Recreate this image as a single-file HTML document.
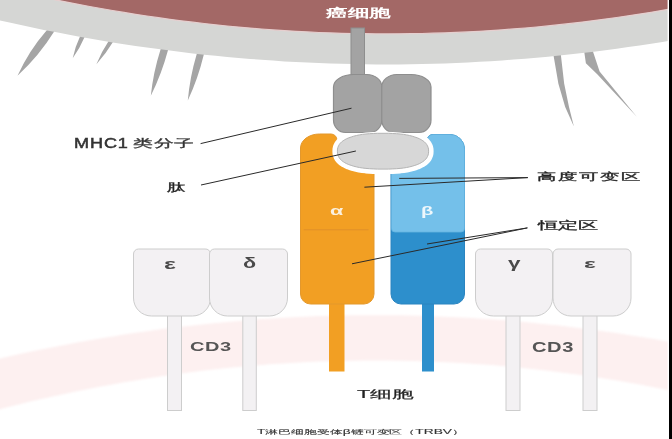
<!DOCTYPE html>
<html><head><meta charset="utf-8">
<style>
html,body{margin:0;padding:0;background:#fff;}
body{width:672px;height:439px;position:relative;overflow:hidden;font-family:"Liberation Sans",sans-serif;}
svg{position:absolute;left:0;top:0;}
.t{position:absolute;white-space:nowrap;transform-origin:0 0;line-height:1;}
</style></head><body>
<svg width="672" height="439" viewBox="0 0 672 439">
<defs>
<mask id="pm" maskUnits="userSpaceOnUse" x="0" y="0" width="672" height="439">
<rect x="0" y="0" width="672" height="439" fill="#fff"/>
<polygon points="428.6,151.2 428.5,153.3 428.1,155.0 427.5,156.5 426.7,157.9 425.7,159.2 424.4,160.5 422.9,161.6 421.2,162.7 419.3,163.7 417.2,164.6 414.8,165.4 412.3,166.2 409.5,166.9 406.6,167.5 403.5,168.0 400.1,168.4 396.6,168.7 392.7,168.9 388.5,169.1 383.0,169.1 377.5,169.1 373.3,168.9 369.4,168.7 365.9,168.4 362.5,168.0 359.4,167.5 356.5,166.9 353.7,166.2 351.2,165.4 348.8,164.6 346.7,163.7 344.8,162.7 343.1,161.6 341.6,160.5 340.3,159.2 339.3,157.9 338.5,156.5 337.9,155.0 337.5,153.3 337.4,151.2 337.5,149.1 337.9,147.4 338.5,145.9 339.3,144.5 340.3,143.2 341.6,141.9 343.1,140.8 344.8,139.7 346.7,138.7 348.8,137.8 351.2,137.0 353.7,136.2 356.5,135.5 359.4,134.9 362.5,134.4 365.9,134.0 369.4,133.7 373.3,133.5 377.5,133.3 383.0,133.3 388.5,133.3 392.7,133.5 396.6,133.7 400.1,134.0 403.5,134.4 406.6,134.9 409.5,135.5 412.3,136.2 414.8,137.0 417.2,137.8 419.3,138.7 421.2,139.7 422.9,140.8 424.4,141.9 425.7,143.2 426.7,144.5 427.5,145.9 428.1,147.4 428.5,149.1" fill="#000" stroke="#000" stroke-width="10" stroke-linejoin="round"/>
</mask>
<filter id="blur1" x="-5%" y="-20%" width="110%" height="140%"><feGaussianBlur stdDeviation="1.2"/></filter>
<clipPath id="lightclip"><rect x="380" y="100" width="100" height="132"/></clipPath>
</defs>
<polygon points="-2.0,359.0 9.5,356.3 20.9,353.8 32.4,351.3 43.8,349.0 55.3,346.7 66.7,344.5 78.2,342.3 89.7,340.3 101.1,338.3 112.6,336.4 124.0,334.6 135.5,332.8 146.9,331.2 158.4,329.6 169.9,328.1 181.3,326.7 192.8,325.4 204.2,324.2 215.7,323.0 227.2,321.9 238.6,320.9 250.1,320.0 261.5,319.1 273.0,318.4 284.4,317.7 295.9,317.1 307.4,316.6 318.8,316.1 330.3,315.8 341.7,315.5 353.2,315.3 364.6,315.2 376.1,315.2 387.6,315.2 399.0,315.3 410.5,315.5 421.9,315.8 433.4,316.2 444.8,316.7 456.3,317.2 467.8,317.8 479.2,318.5 490.7,319.3 502.1,320.1 513.6,321.1 525.1,322.1 536.5,323.2 548.0,324.4 559.4,325.6 570.9,327.0 582.3,328.4 593.8,329.9 605.3,331.5 616.7,333.1 628.2,334.9 639.6,336.7 651.1,338.6 662.5,340.6 674.0,342.7 674.0,391.3 662.5,388.9 651.1,386.7 639.6,384.6 628.2,382.5 616.7,380.6 605.3,378.7 593.8,377.0 582.3,375.3 570.9,373.7 559.4,372.2 548.0,370.8 536.5,369.4 525.1,368.2 513.6,367.1 502.1,366.0 490.7,365.1 479.2,364.2 467.8,363.4 456.3,362.7 444.8,362.2 433.4,361.7 421.9,361.2 410.5,360.9 399.0,360.7 387.6,360.5 376.1,360.5 364.6,360.5 353.2,360.7 341.7,360.9 330.3,361.2 318.8,361.6 307.4,362.1 295.9,362.7 284.4,363.4 273.0,364.1 261.5,365.0 250.1,365.9 238.6,367.0 227.2,368.1 215.7,369.3 204.2,370.6 192.8,372.0 181.3,373.5 169.9,375.1 158.4,376.8 146.9,378.5 135.5,380.4 124.0,382.3 112.6,384.4 101.1,386.5 89.7,388.7 78.2,391.0 66.7,393.4 55.3,395.9 43.8,398.5 32.4,401.1 20.9,403.9 9.5,406.7 -2.0,409.7" fill="#fdf0f0" filter="url(#blur1)"/>
<g fill="#a5a5a5">
<path d="M50.6,25.2 L47.0,30.0 Q29.0,50.5 17.5,75.8 Q39.2,55.7 54.5,31.0 L58.1,26.2 Z"/>
<path d="M82.5,31.0 L80.0,36.5 Q75.1,46.8 72.7,58.2 Q79.9,48.2 84.6,37.0 L87.1,31.5 Z"/>
<path d="M111.9,35.9 L108.7,41.0 Q101.4,51.8 96.4,64.2 Q106.0,53.6 113.3,41.5 L116.5,36.4 Z"/>
<path d="M162.1,44.2 L160.4,50.0 Q153.3,72.2 150.8,95.8 Q161.7,73.8 167.9,50.5 L169.6,44.7 Z"/>
<path d="M198.2,48.7 L196.6,54.5 Q189.9,76.9 187.8,100.6 Q198.1,78.4 203.7,55.0 L205.3,49.2 Z"/>
<polygon points="552.6,50 560.3,50 564.2,83.8 569,107 573.9,126.4 565.2,107 558.4,83.8"/>
<polygon points="583.7,48 591.8,48 599.6,71.4 637,117 597.5,74.5 585.9,63.2"/>
</g>
<polygon points="-2,-2 674,-2 674.0,40.0 662.5,41.9 651.1,43.7 639.6,45.5 628.2,47.1 616.7,48.7 605.3,50.2 593.8,51.7 582.3,53.1 570.9,54.3 559.4,55.5 548.0,56.7 536.5,57.7 525.1,58.7 513.6,59.6 502.1,60.4 490.7,61.2 479.2,61.8 467.8,62.4 456.3,63.0 444.8,63.4 433.4,63.7 421.9,64.0 410.5,64.2 399.0,64.4 387.6,64.4 376.1,64.4 364.6,64.3 353.2,64.1 341.7,63.8 330.3,63.5 318.8,63.1 307.4,62.6 295.9,62.0 284.4,61.4 273.0,60.6 261.5,59.8 250.1,58.9 238.6,58.0 227.2,57.0 215.7,55.8 204.2,54.7 192.8,53.4 181.3,52.0 169.9,50.6 158.4,49.1 146.9,47.5 135.5,45.9 124.0,44.2 112.6,42.4 101.1,40.5 89.7,38.5 78.2,36.5 66.7,34.3 55.3,32.1 43.8,29.9 32.4,27.5 20.9,25.1 9.5,22.6 -2.0,20.0" fill="#d5d6d4"/>
<polygon points="-2,-2 674,-2 674.0,8.3 662.5,10.3 651.1,12.3 639.6,14.1 628.2,15.8 616.7,17.5 605.3,19.1 593.8,20.6 582.3,22.1 570.9,23.4 559.4,24.7 548.0,25.9 536.5,27.0 525.1,28.0 513.6,28.9 502.1,29.8 490.7,30.6 479.2,31.3 467.8,31.9 456.3,32.4 444.8,32.9 433.4,33.2 421.9,33.5 410.5,33.7 399.0,33.8 387.6,33.9 376.1,33.9 364.6,33.7 353.2,33.5 341.7,33.3 330.3,32.9 318.8,32.5 307.4,31.9 295.9,31.3 284.4,30.6 273.0,29.9 261.5,29.0 250.1,28.1 238.6,27.1 227.2,26.0 215.7,24.8 204.2,23.5 192.8,22.2 181.3,20.8 169.9,19.3 158.4,17.7 146.9,16.0 135.5,14.3 124.0,12.4 112.6,10.5 101.1,8.5 89.7,6.5 78.2,4.3 66.7,2.1 55.3,-0.2 43.8,-2.6 32.4,-5.1 20.9,-7.7 9.5,-10.3 -2.0,-13.0" fill="#a36866"/>
<polyline points="-2.0,-13.0 9.5,-10.3 20.9,-7.7 32.4,-5.1 43.8,-2.6 55.3,-0.2 66.7,2.1 78.2,4.3 89.7,6.5 101.1,8.5 112.6,10.5 124.0,12.4 135.5,14.3 146.9,16.0 158.4,17.7 169.9,19.3 181.3,20.8 192.8,22.2 204.2,23.5 215.7,24.8 227.2,26.0 238.6,27.1 250.1,28.1 261.5,29.0 273.0,29.9 284.4,30.6 295.9,31.3 307.4,31.9 318.8,32.5 330.3,32.9 341.7,33.3 353.2,33.5 364.6,33.7 376.1,33.9 387.6,33.9 399.0,33.8 410.5,33.7 421.9,33.5 433.4,33.2 444.8,32.9 456.3,32.4 467.8,31.9 479.2,31.3 490.7,30.6 502.1,29.8 513.6,28.9 525.1,28.0 536.5,27.0 548.0,25.9 559.4,24.7 570.9,23.4 582.3,22.1 593.8,20.6 605.3,19.1 616.7,17.5 628.2,15.8 639.6,14.1 651.1,12.3 662.5,10.3 674.0,8.3" fill="none" stroke="#e6cfcf" stroke-width="1.2"/>
<!-- MHC stem and lobes -->
<rect x="351" y="28" width="13.5" height="46.5" fill="#a3a3a3" stroke="#8e8e8e" stroke-width="1"/>
<path d="M333.5,87 A20,12.5 0 0 1 353.5,74.5 H366.8 A15,12.5 0 0 1 381.8,87 V120 A12,12.5 0 0 1 369.8,132.5 H345.5 A12,12.5 0 0 1 333.5,120 Z" fill="#a3a3a3" stroke="#8e8e8e" stroke-width="1.2"/>
<path d="M381.8,87 A15,12.5 0 0 1 396.8,74.5 H411 A20,12.5 0 0 1 431,87 V120 A12,12.5 0 0 1 419,132.5 H393.8 A12,12.5 0 0 1 381.8,120 Z" fill="#a3a3a3" stroke="#8e8e8e" stroke-width="1.2"/>
<!-- stems -->
<rect x="329" y="300" width="15.5" height="71.5" fill="#f29f23"/>
<rect x="422" y="300" width="12" height="71.5" fill="#2d8fcc"/>
<g mask="url(#pm)">
<path d="M300.5,294 V148 A19,14 0 0 1 319.5,134 H331 A6,6 0 0 1 337,140 V150 H374 V294 A10,10 0 0 1 364,304 H310.5 A10,10 0 0 1 300.5,294 Z" fill="#f29f23" stroke="#e3982d" stroke-width="1"/>
<path d="M391,294 V150 H427 V140.5 A6,6 0 0 1 433,134.5 H450 A14.5,14.5 0 0 1 464.5,149 V294 A10.5,10 0 0 1 454,304 H401 A10,10 0 0 1 391,294 Z" fill="#2d8fcc" stroke="#2a84c0" stroke-width="1"/>
<path d="M391.5,150 H427 V140.5 A6,6 0 0 1 433,134.5 H450 A14.5,14.5 0 0 1 464.5,149 V228.5 A3.5,3.5 0 0 1 461,232 H395 A3.5,3.5 0 0 1 391.5,228.5 Z" fill="#74c0ea" stroke="#64b4e0" stroke-width="0.8"/>
</g>
<line x1="303.7" y1="229.8" x2="368.6" y2="229.8" stroke="#e0912a" stroke-width="1"/>
<polygon points="428.6,151.2 428.5,153.3 428.1,155.0 427.5,156.5 426.7,157.9 425.7,159.2 424.4,160.5 422.9,161.6 421.2,162.7 419.3,163.7 417.2,164.6 414.8,165.4 412.3,166.2 409.5,166.9 406.6,167.5 403.5,168.0 400.1,168.4 396.6,168.7 392.7,168.9 388.5,169.1 383.0,169.1 377.5,169.1 373.3,168.9 369.4,168.7 365.9,168.4 362.5,168.0 359.4,167.5 356.5,166.9 353.7,166.2 351.2,165.4 348.8,164.6 346.7,163.7 344.8,162.7 343.1,161.6 341.6,160.5 340.3,159.2 339.3,157.9 338.5,156.5 337.9,155.0 337.5,153.3 337.4,151.2 337.5,149.1 337.9,147.4 338.5,145.9 339.3,144.5 340.3,143.2 341.6,141.9 343.1,140.8 344.8,139.7 346.7,138.7 348.8,137.8 351.2,137.0 353.7,136.2 356.5,135.5 359.4,134.9 362.5,134.4 365.9,134.0 369.4,133.7 373.3,133.5 377.5,133.3 383.0,133.3 388.5,133.3 392.7,133.5 396.6,133.7 400.1,134.0 403.5,134.4 406.6,134.9 409.5,135.5 412.3,136.2 414.8,137.0 417.2,137.8 419.3,138.7 421.2,139.7 422.9,140.8 424.4,141.9 425.7,143.2 426.7,144.5 427.5,145.9 428.1,147.4 428.5,149.1" fill="#fff" stroke="#fff" stroke-width="3"/>
<polygon points="428.6,151.2 428.5,153.3 428.1,155.0 427.5,156.5 426.7,157.9 425.7,159.2 424.4,160.5 422.9,161.6 421.2,162.7 419.3,163.7 417.2,164.6 414.8,165.4 412.3,166.2 409.5,166.9 406.6,167.5 403.5,168.0 400.1,168.4 396.6,168.7 392.7,168.9 388.5,169.1 383.0,169.1 377.5,169.1 373.3,168.9 369.4,168.7 365.9,168.4 362.5,168.0 359.4,167.5 356.5,166.9 353.7,166.2 351.2,165.4 348.8,164.6 346.7,163.7 344.8,162.7 343.1,161.6 341.6,160.5 340.3,159.2 339.3,157.9 338.5,156.5 337.9,155.0 337.5,153.3 337.4,151.2 337.5,149.1 337.9,147.4 338.5,145.9 339.3,144.5 340.3,143.2 341.6,141.9 343.1,140.8 344.8,139.7 346.7,138.7 348.8,137.8 351.2,137.0 353.7,136.2 356.5,135.5 359.4,134.9 362.5,134.4 365.9,134.0 369.4,133.7 373.3,133.5 377.5,133.3 383.0,133.3 388.5,133.3 392.7,133.5 396.6,133.7 400.1,134.0 403.5,134.4 406.6,134.9 409.5,135.5 412.3,136.2 414.8,137.0 417.2,137.8 419.3,138.7 421.2,139.7 422.9,140.8 424.4,141.9 425.7,143.2 426.7,144.5 427.5,145.9 428.1,147.4 428.5,149.1" fill="#d7d7d7" stroke="#b4b4b4" stroke-width="1"/>
<!-- CD3 -->
<g fill="#f3f1f3" stroke="#cdcdcd" stroke-width="1">
<rect x="167.5" y="312" width="14" height="98.5"/>
<rect x="242.8" y="312" width="13.5" height="98.5"/>
<rect x="506" y="312" width="14" height="98.5"/>
<rect x="583" y="312" width="14" height="98.5"/>
<path d="M133.5,254 A5,5 0 0 1 138.5,249 H205 A5,5 0 0 1 210.5,254 V298 A18,18 0 0 1 192.5,316 H151.5 A18,18 0 0 1 133.5,298 Z"/>
<path d="M209.5,254 A5,5 0 0 1 214.5,249 H282.5 A5,5 0 0 1 287.5,254 V298 A18,18 0 0 1 269.5,316 H227.5 A18,18 0 0 1 209.5,298 Z"/>
<path d="M475.5,254 A5,5 0 0 1 480.5,249 H547 A5,5 0 0 1 552.5,254 V298 A18,18 0 0 1 534.5,316 H493.5 A18,18 0 0 1 475.5,298 Z"/>
<path d="M553,254 A5,5 0 0 1 558,249 H626 A5,5 0 0 1 631,254 V298 A18,18 0 0 1 613,316 H571 A18,18 0 0 1 553,298 Z"/>
</g>
<!-- leader lines -->
<g stroke="#2a2a2a" stroke-width="1" fill="none">
<line x1="200.6" y1="143.6" x2="351.5" y2="108.2"/>
<line x1="201" y1="185" x2="355.9" y2="151"/>
<line x1="527.8" y1="177.6" x2="399.2" y2="178.4"/>
<line x1="527.8" y1="177.6" x2="364.4" y2="187.2"/>
<line x1="527.4" y1="227.9" x2="427" y2="244"/>
<line x1="527.4" y1="227.9" x2="352" y2="263.8"/>
</g>
<rect x="667.6" y="0" width="1.6" height="439" fill="#fff"/>
<rect x="669" y="0" width="3" height="439" fill="#000"/>
</svg>
<div class="t" style="left:326.06px;top:7.24px;font-size:12.40px;font-weight:bold;color:#fff;letter-spacing:0.0em;transform:scaleX(1.7966)">癌细胞</div>
<div class="t" style="left:74.12px;top:135.66px;font-size:14.24px;font-weight:normal;color:#333;letter-spacing:0.05em;-webkit-text-stroke:0.5px #333;transform:scaleX(1.2684)">MHC1</div>
<div class="t" style="left:132.70px;top:137.76px;font-size:11.48px;font-weight:normal;color:#333;letter-spacing:0.04em;-webkit-text-stroke:0.3px #333;transform:scaleX(1.8006)">类分子</div>
<div class="t" style="left:166.92px;top:182.20px;font-size:11.06px;font-weight:normal;color:#222;letter-spacing:0em;-webkit-text-stroke:0.3px #222;transform:scaleX(1.6691)">肽</div>
<div class="t" style="left:537.20px;top:172.05px;font-size:9.79px;font-weight:normal;color:#222;letter-spacing:0.08em;-webkit-text-stroke:0.3px #222;transform:scaleX(1.9373)">高度可变区</div>
<div class="t" style="left:537.80px;top:219.50px;font-size:11.11px;font-weight:normal;color:#222;letter-spacing:0.0em;-webkit-text-stroke:0.3px #222;transform:scaleX(1.8373)">恒定区</div>
<div class="t" style="left:329.80px;top:205.10px;font-size:12.13px;font-weight:bold;color:#fbf1e0;letter-spacing:0em;transform:scaleX(1.7854)">α</div>
<div class="t" style="left:420.96px;top:205.12px;font-size:12.00px;font-weight:bold;color:#eef7fc;letter-spacing:0em;transform:scaleX(1.6928)">β</div>
<div class="t" style="left:164.28px;top:256.70px;font-size:14.95px;font-weight:bold;color:#4a4a4a;letter-spacing:0em;transform:scaleX(1.6716)">ε</div>
<div class="t" style="left:242.74px;top:256.14px;font-size:14.37px;font-weight:bold;color:#4a4a4a;letter-spacing:0em;transform:scaleX(1.5028)">δ</div>
<div class="t" style="left:507.94px;top:256.28px;font-size:14.01px;font-weight:bold;color:#4a4a4a;letter-spacing:0em;transform:scaleX(1.6062)">γ</div>
<div class="t" style="left:583.70px;top:258.02px;font-size:12.41px;font-weight:bold;color:#4a4a4a;letter-spacing:0em;transform:scaleX(2.0030)">ε</div>
<div class="t" style="left:190.30px;top:339.80px;font-size:13.34px;font-weight:bold;color:#555;letter-spacing:0.03em;transform:scaleX(1.5000)">CD3</div>
<div class="t" style="left:532.08px;top:339.80px;font-size:14.23px;font-weight:bold;color:#555;letter-spacing:0.03em;transform:scaleX(1.4117)">CD3</div>
<div class="t" style="left:356.64px;top:389.12px;font-size:10.94px;font-weight:normal;color:#222;letter-spacing:0.0em;-webkit-text-stroke:0.2px #222;transform:scaleX(1.9715)">T细胞</div>
<div class="t" style="left:257.00px;top:428.80px;font-size:6.40px;font-weight:normal;color:#333;letter-spacing:0em;-webkit-text-stroke:0.1px #333;transform:scaleX(2.1515)">T淋巴细胞受体β链可变区（TRBV）</div>
</body></html>
